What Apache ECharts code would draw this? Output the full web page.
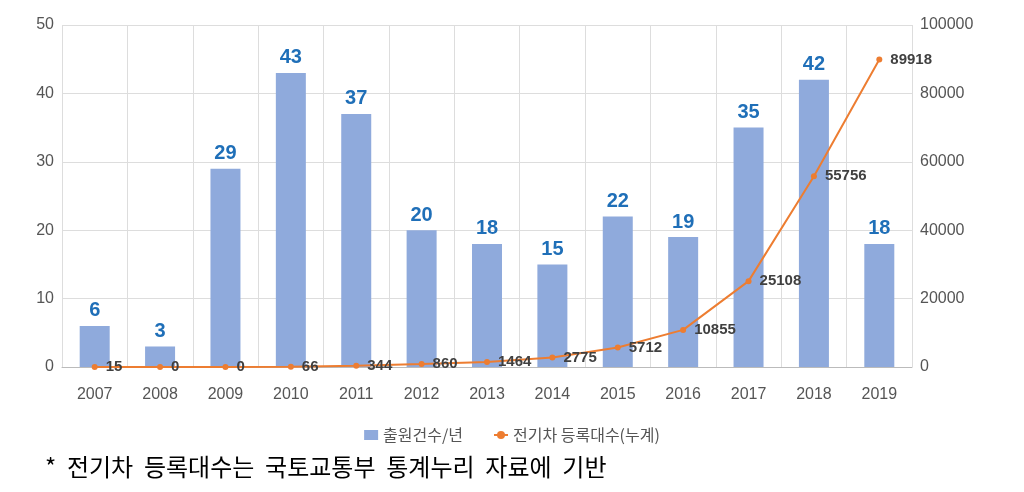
<!DOCTYPE html><html><head><meta charset="utf-8"><script src="https://cdn.jsdelivr.net/npm/echarts@6/dist/echarts.min.js"></script></head><body style="margin:0;background:#fff"><div id="c" style="width:1024px;height:492px"></div><script>
const years=['2007','2008','2009','2010','2011','2012','2013','2014','2015','2016','2017','2018','2019'];
const patents=[6,3,29,43,37,20,18,15,22,19,35,42,18];
const evs=[15,0,0,66,344,860,1464,2775,5712,10855,25108,55756,89918];
const c=echarts.init(document.getElementById('c'));
c.setOption({animation:false,
grid:{left:62,right:112,top:25,bottom:125},
legend:{top:422,left:'center',itemGap:30,textStyle:{fontSize:16,color:'#555',fontFamily:'Noto Sans CJK KR'},data:[{name:'출원건수/년',icon:'rect'},{name:'전기차 등록대수(누계)'}],itemWidth:14,itemHeight:10},
graphic:[{type:'text',left:45,top:455,style:{text:'*  전기차  등록대수는  국토교통부  통계누리  자료에  기반',fontSize:24,fill:'#000',fontFamily:'Noto Sans CJK KR'}}],
xAxis:{type:'category',data:years,axisTick:{show:false},axisLine:{lineStyle:{color:'#bbb'}},splitLine:{show:true,lineStyle:{color:'#ddd'}},axisLabel:{fontSize:16,color:'#555',margin:20}},
yAxis:[{type:'value',min:0,max:50,interval:10,axisLabel:{fontSize:16,color:'#555'},splitLine:{lineStyle:{color:'#ddd'}}},
{type:'value',min:0,max:100000,interval:20000,axisLabel:{fontSize:16,color:'#555',formatter:v=>String(v)},splitLine:{show:false}}],
series:[{name:'출원건수/년',type:'bar',data:patents,barWidth:30,itemStyle:{color:'#8faadc'},label:{show:true,position:'top',fontSize:20,fontWeight:'bold',color:'#1f6fb8'}},
{name:'전기차 등록대수(누계)',type:'line',yAxisIndex:1,data:evs,symbol:'circle',symbolSize:6,itemStyle:{color:'#ed7d31'},lineStyle:{color:'#ed7d31',width:2},label:{show:true,position:'right',distance:8,fontSize:15,fontWeight:'bold',color:'#404040'}}]});
</script></body></html>
